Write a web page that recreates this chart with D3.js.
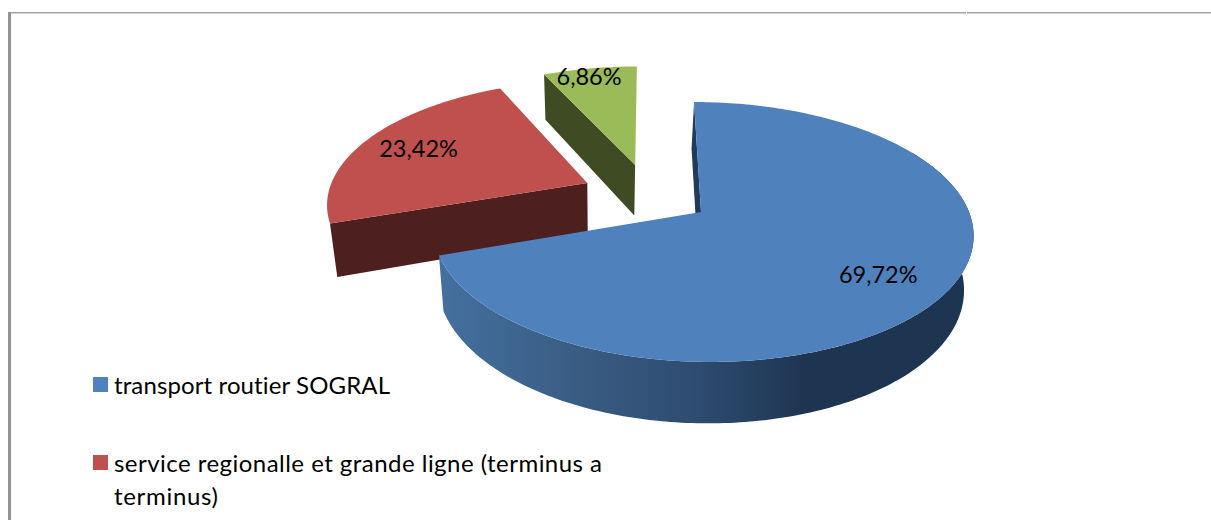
<!DOCTYPE html>
<html>
<head>
<meta charset="utf-8">
<script src="https://cdn.jsdelivr.net/npm/d3@7"></script>
<style>
html,body{margin:0;padding:0;background:#fff;overflow:hidden}
svg{display:block}
text{font-family:Lato,"Open Sans",sans-serif;fill:#000;font-variant-ligatures:none}
</style>
</head>
<body>
<svg id="c" width="1211" height="520"></svg>
<script>
const categories = ["transport routier SOGRAL", "service regionalle et grande ligne (terminus a terminus)", "autre"];
const values = [69.72, 23.42, 6.86];
const valueLabels = ["69,72%", "23,42%", "6,86%"];
const topColors = ["#4f81bd", "#c0504d", "#9bbb59"];
const wallColors = ["#1e3a5f", "#4d1f1e", "#3f4b22"];
const legendLines = [["transport routier SOGRAL"], ["service regionalle et grande ligne (terminus a", "terminus)"]];

const rad = Math.PI / 180;
const svg = d3.select("#c");

// frame
const frame = svg.append("g").attr("stroke", "#a3a3a3").attr("fill", "none");
frame.append("line").attr("x1", 8).attr("x2", 966).attr("y1", 12.75).attr("y2", 12.75).attr("stroke-width", 1.5);
frame.append("line").attr("x1", 967).attr("x2", 1211).attr("y1", 12.75).attr("y2", 12.75).attr("stroke-width", 1.5);
frame.append("line").attr("x1", 9.5).attr("x2", 9.5).attr("y1", 12).attr("y2", 520).attr("stroke-width", 3).attr("stroke", "#949494");

// pie layout
const pie = d3.pie().sort(null).value(d => d);
const arcs = pie(values);

// perspective plane: (u, v) in disc units to screen
const k = 0.1538;
const topX = d3.scaleLinear().domain([0, 1]).range([701, 968]);
const topY = d3.scaleLinear().domain([0, 1]).range([212, 85.1]);
const botX = d3.scaleLinear().domain([0, 1]).range([698.5, 958.5]);
const botY = d3.scaleLinear().domain([0, 1]).range([265, 131]);
const bend = 1, skew = 8;
function proj(u, v, bottom) {
  const w = 1 + k * v, a = u / w, b = v / w;
  const sx = bottom ? botX : topX, sy = bottom ? botY : topY;
  return [sx(a) + bend * a * a - skew * b, sy(b)];
}
const explode = [[0, 0], [-0.435, 0.237], [-0.25, 0.392]];
function pt(i, angle, r, bottom) {
  return proj(r * Math.sin(angle) + explode[i][0], r * Math.cos(angle) + explode[i][1], bottom);
}
const line = d3.line();
function rim(i, a0, a1, bottom) {
  const n = Math.max(2, Math.ceil(Math.abs(a1 - a0) / (1 * rad)));
  return d3.range(n + 1).map(j => pt(i, a0 + (a1 - a0) * j / n, 1, bottom));
}
function topSurface(i) {
  return [pt(i, 0, 0, false), ...rim(i, arcs[i].startAngle, arcs[i].endAngle, false)];
}
function cutFace(i, angle) {
  return [pt(i, 0, 0, false), pt(i, angle, 1, false), pt(i, angle, 1, true), pt(i, 0, 0, true)];
}

// gradient on the blue outer wall
const defs = svg.append("defs");
const grad = defs.append("linearGradient").attr("id", "blueWall")
  .attr("gradientUnits", "userSpaceOnUse").attr("x1", 439).attr("x2", 975).attr("y1", 0).attr("y2", 0);
[[0, "#44709f"], [0.3, "#38597f"], [0.5, "#2c4a6e"], [0.68, "#1e3552"], [1, "#1e3552"]]
  .forEach(s => grad.append("stop").attr("offset", s[0]).attr("stop-color", s[1]));

const g = svg.append("g");
function poly(points, fill) {
  g.append("path").attr("d", line(points) + "Z").attr("fill", fill);
}

// red slice
poly(cutFace(1, arcs[1].startAngle), wallColors[1]);
poly(topSurface(1), topColors[1]);
// green slice
poly(cutFace(2, arcs[2].startAngle), wallColors[2]);
poly(topSurface(2), topColors[2]);
// blue slice
const wallTop = rim(0, 60 * rad, arcs[0].endAngle, false);
const wallBot = rim(0, 60 * rad, arcs[0].endAngle, true).reverse();
poly([...wallTop, ...wallBot], "url(#blueWall)");
poly(cutFace(0, arcs[0].startAngle), wallColors[0]);
poly(topSurface(0), topColors[0]);

// value labels
const labelRadius = [0.72, 0.75, 0.75];
const labelShift = [[6, 5], [-2, -2], [-11, -14]];
arcs.forEach((a, i) => {
  const p = pt(i, (a.startAngle + a.endAngle) / 2, labelRadius[i], false);
  svg.append("text")
    .attr("x", p[0] + labelShift[i][0]).attr("y", p[1] + labelShift[i][1])
    .attr("text-anchor", "middle").attr("dominant-baseline", "central")
    .attr("font-size", 23.5).text(valueLabels[i]);
});

// legend
const legendY = d3.scalePoint().domain([0, 1]).range([392, 470]);
const legendWidths = [[276], [488, 104]];
legendLines.forEach((lines, i) => {
  const y = legendY(i);
  svg.append("rect").attr("x", 93).attr("y", y - 15).attr("width", 15).attr("height", 15).attr("fill", topColors[i]);
  lines.forEach((t, j) => {
    svg.append("text").attr("x", 114).attr("y", y + 1.5 + j * 33).attr("font-size", 24)
      .attr("textLength", legendWidths[i][j]).attr("lengthAdjust", "spacing").text(t);
  });
});
</script>
</body>
</html>
